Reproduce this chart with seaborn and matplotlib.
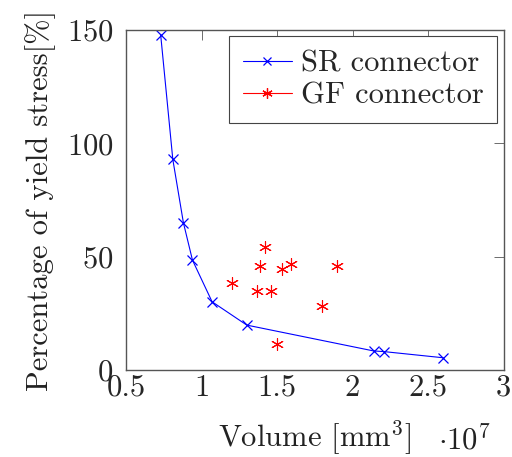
import matplotlib
matplotlib.use("Agg")
import matplotlib.pyplot as plt
from matplotlib.lines import Line2D
import seaborn as sns
import pandas as pd

# SR connector: volume (x 1e7 mm^3) vs percentage of yield stress
sr_volume = [0.73, 0.81, 0.88, 0.94, 1.07, 1.30, 2.14, 2.21, 2.60]
sr_stress = [147.6, 92.9, 65.0, 48.5, 30.1, 19.8, 8.4, 8.1, 5.4]

# GF connector samples
gf_volume = [1.42, 1.39, 1.53, 1.59, 1.90, 1.20, 1.37, 1.46, 1.80, 1.50]
gf_stress = [54.1, 46.0, 44.5, 46.6, 46.0, 38.5, 34.8, 34.8, 28.2, 11.5]

x_ticks = [0.5, 1, 1.5, 2, 2.5, 3]
x_tick_labels = ["0.5", "1", "1.5", "2", "2.5", "3"]
y_ticks = [0, 50, 100, 150]

sns.set_theme(style="white")
plt.rcParams["font.family"] = ["serif"]
plt.rcParams["font.serif"] = ["cmr10", "DejaVu Serif"]
plt.rcParams["mathtext.fontset"] = "cm"
plt.rcParams["axes.formatter.use_mathtext"] = True

sr = pd.DataFrame({"volume": sr_volume, "stress": sr_stress})
gf = pd.DataFrame({"volume": gf_volume, "stress": gf_stress})

fig = plt.figure(figsize=(5.12, 4.57), dpi=100)
ax = fig.add_axes([0.2461, 0.1904, 0.7373, 0.7440])

sns.lineplot(data=sr, x="volume", y="stress", ax=ax, sort=False, color="blue",
             linewidth=0.8, marker="x", markersize=6.5, markeredgewidth=0.9,
             markeredgecolor="blue", estimator=None)

asterisk = (6, 2, 0)
sns.scatterplot(data=gf, x="volume", y="stress", ax=ax, color="red",
                marker=asterisk, s=75, linewidth=0.8, edgecolor="red")

ax.set_xlim(0.5, 3)
ax.set_ylim(0, 150)
ax.set_xticks(x_ticks)
ax.set_xticklabels(x_tick_labels)
ax.set_yticks(y_ticks)

fs = 22
ax.tick_params(axis="both", which="major", direction="in", length=7, width=0.6,
               color="#555555", labelsize=fs, top=True, right=True)
ax.tick_params(axis="x", pad=3)
ax.tick_params(axis="y", pad=9)
for sp in ax.spines.values():
    sp.set_color("#555555")
    sp.set_linewidth(1.0)

ax.set_xlabel("Volume [mm$^3$]", fontsize=fs, color="#222222", labelpad=12)
ax.set_ylabel("Percentage of yield stress[%]", fontsize=fs, color="#222222", labelpad=8)
ax.text(0.895, -0.205, r"$\cdot 10^7$", transform=ax.transAxes, fontsize=fs,
        ha="center", va="center", color="#222222")

handles = [
    Line2D([], [], color="blue", linewidth=0.8, marker="x", markersize=5.5,
           markeredgewidth=0.9),
    Line2D([], [], color="red", linewidth=0.8, marker=asterisk, markersize=7.5,
           markeredgewidth=0.9),
]
leg = ax.legend(handles, ["SR connector", "GF connector"], loc="upper right",
                fontsize=fs, frameon=True, fancybox=False, framealpha=1,
                edgecolor="#444444", borderpad=0.45, handlelength=1.6,
                handletextpad=0.3, labelspacing=0.15, borderaxespad=0.2)
leg.get_frame().set_linewidth(0.8)

fig.savefig("out.png", dpi=100)
